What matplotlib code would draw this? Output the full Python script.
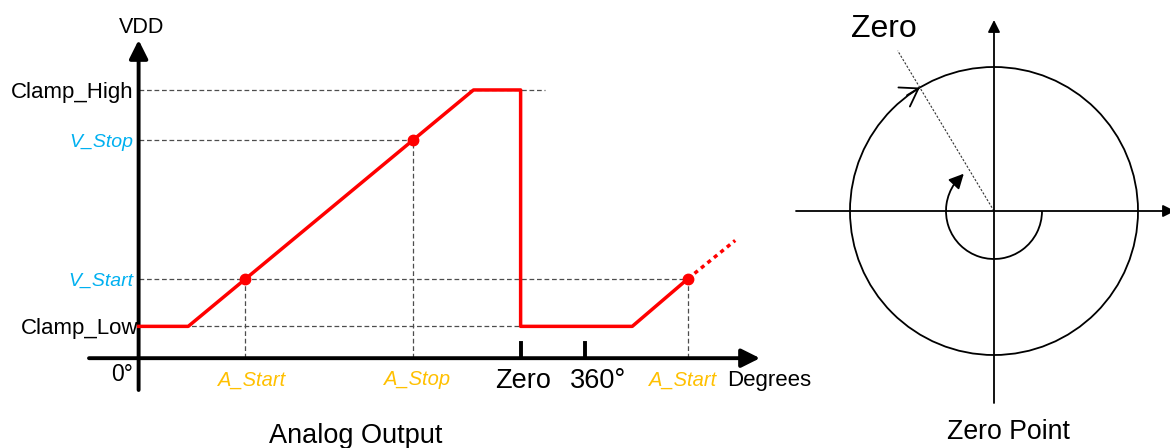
import numpy as np
import matplotlib.pyplot as plt
from matplotlib.patches import Circle, Arc

plt.rcParams['font.family'] = ['Liberation Sans', 'DejaVu Sans']

# analog output profile: angle in degrees vs output level (fraction of VDD)
profile_deg = [0, 40, 270, 308, 308, 398, 443]
profile_lvl = [0.10, 0.10, 0.843, 0.843, 0.10, 0.10, 0.25]
next_deg = [443, 481]
next_lvl = [0.25, 0.37]

level_names = ['Clamp_High', 'V_Stop', 'V_Start', 'Clamp_Low']
level_vals = [0.843, 0.686, 0.25, 0.10]
level_ends = [328, 221, 443, 308]

point_names = ['A_Start', 'A_Stop', 'A_Start']
point_deg = [86, 221, 443]
point_lvl = [0.25, 0.686, 0.25]

tick_names = ['Zero', '360°']
tick_deg = [308, 360]

# zero point sketch
zero_angle = 121
circle_r = 144
arc_r = 48

RED = '#FF0000'
BLUE = '#00B0F0'
GOLD = '#FFC000'
GUIDE = '#4d4d4d'


def label(ax, x, y, s, fs, dx=0, ha='center', **kw):
    # y is the middle of the capitals
    ax.annotate(s, (x, y), xytext=(dx, -0.358 * fs), textcoords='offset points',
                ha=ha, va='baseline', fontsize=fs, annotation_clip=False, **kw)


fig = plt.figure(figsize=(11.7, 4.48), dpi=100)

# ---- Analog output ----
ax = fig.add_axes([89 / 1170, 58 / 448, 671 / 1170, 350 / 448])
ax.set_xlim(-40, 501)
ax.set_ylim(-0.1, 1.0)
ax.axis('off')

arrow = dict(arrowstyle='-|>', lw=2.8, color='black', mutation_scale=28,
             shrinkA=0, shrinkB=0)
ax.annotate('', xy=(0, 1.0), xytext=(0, -0.1), arrowprops=arrow)
ax.annotate('', xy=(501, 0), xytext=(-40, 0), arrowprops=arrow)

dash = (0, (3.8, 2.2))
for v, end in zip(level_vals, level_ends):
    ax.plot([0, end], [v, v], ls=dash, color=GUIDE, lw=0.9, zorder=1)
for d, v in zip(point_deg, point_lvl):
    ax.plot([d, d], [0, v], ls=dash, color=GUIDE, lw=0.9, zorder=1)

ax.plot(profile_deg, profile_lvl, color=RED, lw=2.5, zorder=3)
ax.plot(next_deg, next_lvl, color=RED, lw=2.5, ls=(0, (1.2, 1.2)), zorder=3)
ax.plot(point_deg, point_lvl, 'o', color=RED, ms=7.5, zorder=4)

for d in tick_deg:
    ax.plot([d, d], [0, 0.047], color='black', lw=2.8)

for name, v in zip(level_names, level_vals):
    if name.startswith('Clamp'):
        dx = 0 if name == 'Clamp_Low' else -4
        label(ax, 0, v, name, 16, dx=dx, ha='right')
    else:
        label(ax, 0, v, name, 14, dx=-4, ha='right', color=BLUE, style='italic')

label(ax, 2.4, 1.047, 'VDD', 15.5)
label(ax, -13, -0.046, '0°', 16.5)
for name, d, dx in zip(point_names, point_deg, [4.3, 2.9, -3.6]):
    label(ax, d, -0.063, name, 14.5, dx=dx, color=GOLD, style='italic')
for name, d, dx in zip(tick_names, tick_deg, [1.5, 9.4]):
    label(ax, d, -0.063, name, 19.5, dx=dx)
label(ax, 474.5, -0.063, 'Degrees', 16, ha='left')
label(ax, 175, -0.236, 'Analog Output', 19.5)

# ---- Zero point ----
ax2 = fig.add_axes([790 / 1170, 0, 380 / 1170, 438 / 448])
ax2.set_xlim(-204, 176)
ax2.set_ylim(-237, 201)
ax2.axis('off')

thin = dict(arrowstyle='-|>', lw=1.3, color='black', mutation_scale=18,
            shrinkA=0, shrinkB=0)
ax2.annotate('', xy=(181, 0), xytext=(-198, 0), arrowprops=thin, annotation_clip=False)
ax2.annotate('', xy=(0, 191), xytext=(0, -192), arrowprops=thin, annotation_clip=False)

ax2.add_patch(Circle((0, 0), circle_r, fill=False, lw=1.3, color='black'))

a = np.radians(zero_angle)
ax2.plot([0, 187 * np.cos(a)], [0, 187 * np.sin(a)], ls=(0, (2, 1.5)),
         lw=0.8, color='#333333')

# rotation arc with arrow, clockwise from 0° round to the zero direction
tip, base = 129, 145
ax2.add_patch(Arc((0, 0), 2 * arc_r, 2 * arc_r, theta1=base, theta2=360,
                  lw=1.3, color='black'))
ax2.annotate('', xy=(arc_r * np.cos(np.radians(tip)), arc_r * np.sin(np.radians(tip))),
             xytext=(arc_r * np.cos(np.radians(base)), arc_r * np.sin(np.radians(base))),
             arrowprops=dict(arrowstyle='-|>', lw=1.3, color='black',
                             mutation_scale=22, shrinkA=0, shrinkB=0))

# open arrow on the circle where the zero line crosses it
p = np.array([circle_r * np.cos(a), circle_r * np.sin(a)])
t = np.array([np.sin(a), -np.cos(a)])
ax2.annotate('', xy=tuple(p), xytext=tuple(p - 15 * t),
             arrowprops=dict(arrowstyle='->,head_length=12,head_width=8',
                             mutation_scale=1, lw=1.3, color='black',
                             shrinkA=0, shrinkB=0))

label(ax2, -110, 185, 'Zero', 23)
label(ax2, 14, -218, 'Zero Point', 19.2)

fig.savefig('out.png', dpi=100)
